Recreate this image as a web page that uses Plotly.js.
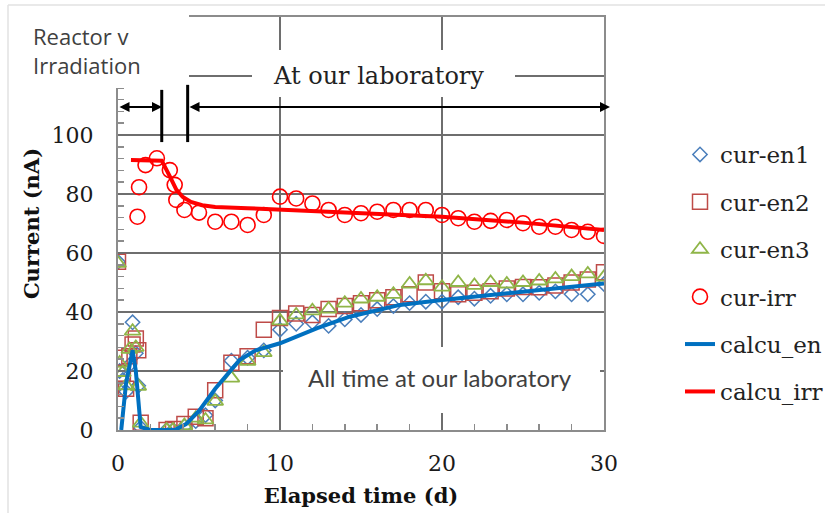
<!DOCTYPE html>
<html>
<head>
<meta charset="utf-8">
<script src="https://cdn.plot.ly/plotly-3.0.1.min.js"></script>
<style>html,body{margin:0;padding:0;background:#fff;}#chart{width:825px;height:513px;}</style>
</head>
<body>
<div id="chart"></div>
<script>
// ---- data ----
var timeEn = [0, 0.1, 0.3, 0.5, 0.7, 0.9, 1.1, 1.25, 1.4, 3.0, 3.4, 4.1, 4.8, 5.4, 6, 7, 8, 9, 10, 11, 12, 13, 14, 15, 16, 17, 18, 19, 20, 21, 22, 23, 24, 25, 26, 27, 28, 29, 30];
var curEn1 = [57, 20, 17, 13, 22, 36.5, 26, 15, 0.8, 0, 0, 1.2, 3, 5, 10, 23.5, 24.5, 27, 34, 36, 36.5, 35.3, 37.5, 39, 41, 42, 43, 43.5, 43.5, 45, 44.5, 45.5, 46, 46, 46.5, 47, 46, 46, 49.5];
var curEn2 = [57, 24.5, 19, 14, 25, 29, 31, 27, 2.5, 0, 0.3, 2, 4.5, 4, 13.5, 22.8, 25, 34, 38, 39.5, 39, 41, 42, 43, 44, 45, 46, 50, 47, 46, 46.5, 47, 48, 48.5, 48.4, 49, 50, 51, 53.5];
var curEn3 = [56.5, 22.7, 19.5, 15, 27.3, 33.5, 28, 14.8, 2.3, 0, 0, 1.5, 4, 3.4, 9.7, 17.6, 23.3, 26.2, 37, 39, 40.4, 41, 43, 44.4, 45, 46, 49.5, 50.6, 48.4, 50, 49, 50, 49.5, 50, 50.5, 51.2, 52, 52.9, 51.8];

var timeIrr = [1.2, 1.3, 1.7, 2.4, 3.2, 3.5, 3.6, 4.1, 5, 6, 7, 8, 9, 10, 11, 12, 13, 14, 15, 16, 17, 18, 19, 20, 21, 22, 23, 24, 25, 26, 27, 28, 29, 30];
var curIrr = [72.3, 82.3, 89.8, 92.1, 88.1, 83.1, 78.0, 74.6, 73.7, 70.6, 70.6, 69.5, 72.9, 79.1, 78.5, 76.8, 74.6, 72.9, 73.5, 74.0, 74.6, 74.6, 74.6, 72.9, 71.8, 70.6, 70.9, 71.2, 70.1, 68.9, 68.9, 67.8, 67.2, 65.8];

var timeCalcEn = [0.2, 0.5, 0.9, 1.1, 1.4, 2.0, 3.5, 4.2, 5.0, 6.0, 7.5, 8.5, 10, 12.3, 14.3, 17.4, 20, 25, 30];
var calcuEn = [0, 16, 27, 20, 1, 0, 0, 2, 6.5, 14, 23.7, 27, 29.4, 34.5, 38.4, 42.4, 44.1, 47.0, 49.7];

var timeCalcIrr = [0.8, 2.7, 3.2, 3.6, 4.0, 4.5, 5.2, 6, 8, 10, 15, 20, 25, 30];
var calcuIrr = [91.5, 91.3, 86, 81.5, 79, 77.3, 76.2, 75.6, 75.2, 74.7, 73.7, 72.3, 70.3, 67.8];

var yTickVals = [0, 20, 40, 60, 80, 100, 120, 140];
var yTickText = ['0', '20', '40', '60', '80', '100', '', ''];
var xTickVals = [0, 10, 20, 30];
var seriesNames = ['cur-en1', 'cur-en2', 'cur-en3', 'cur-irr', 'calcu_en', 'calcu_irr'];

// ---- geometry helpers (pixel -> paper) ----
var L = 118, R = 604, T = 17, B = 430;
function px(x) { return (x - L) / (R - L); }
function py(y) { return (B - y) / (B - T); }

var serif = 'DejaVu Serif';
var sans = 'Lato';

var traces = [
  {x: timeEn, y: curEn1, name: seriesNames[0], legendgroup: 'a', mode: 'markers', type: 'scatter',
   marker: {symbol: 'diamond-open', size: 11, color: '#4a7ebb', line: {width: 1.5}}},
  {x: timeEn, y: curEn2, name: seriesNames[1], legendgroup: 'b', mode: 'markers', type: 'scatter',
   marker: {symbol: 'square-open', size: 15, color: '#be4b48', line: {width: 1.5}}},
  {x: timeEn, y: curEn3, name: seriesNames[2], legendgroup: 'c', mode: 'markers', type: 'scatter',
   marker: {symbol: 'triangle-up-open', size: 14, color: '#8fb548', line: {width: 1.8}}},
  {x: timeIrr, y: curIrr, name: seriesNames[3], legendgroup: 'd', mode: 'markers', type: 'scatter',
   marker: {symbol: 'circle-open', size: 15, color: '#ff0000', line: {width: 1.6}}},
  {x: timeCalcEn, y: calcuEn, name: seriesNames[4], legendgroup: 'e', mode: 'lines', type: 'scatter',
   line: {color: '#0070c0', width: 4}},
  {x: timeCalcIrr, y: calcuIrr, name: seriesNames[5], legendgroup: 'f', mode: 'lines', type: 'scatter',
   line: {color: '#ff0000', width: 4}}
];

var gridColor = '#6e6e6e';
var layout = {
  width: 825, height: 513,
  margin: {l: L, r: 825 - R, t: T, b: 513 - B, autoexpand: false},
  paper_bgcolor: '#ffffff', plot_bgcolor: '#ffffff',
  showlegend: true,
  legend: {x: px(680), y: py(133), xanchor: 'left', yanchor: 'top', traceorder: 'grouped',
           tracegroupgap: 14.5, font: {family: serif, size: 23, color: '#222'}, bgcolor: 'rgba(0,0,0,0)'},
  xaxis: {range: [0, 30], tickvals: xTickVals, showgrid: true, gridcolor: gridColor, gridwidth: 1.5,
          zeroline: false, showline: true, mirror: true, linecolor: '#8c8c8c', linewidth: 2,
          ticks: 'inside', ticklen: 12, tickcolor: gridColor, tickwidth: 1.5,
          ticklabelstandoff: 13,
          minor: {dtick: 2, ticks: 'inside', ticklen: 6, tickcolor: '#8c8c8c', tickwidth: 1.5, showgrid: false},
          tickfont: {family: serif, size: 22, color: '#1a1a1a'},
          title: {text: 'Elapsed time (d)', font: {family: serif, size: 21, color: '#111', weight: 'bold'}, standoff: 13},
          automargin: false, fixedrange: true},
  yaxis: {range: [0, 140], tickvals: yTickVals, ticktext: yTickText, showgrid: true, gridcolor: gridColor, gridwidth: 1.5,
          zeroline: false, showline: true, mirror: true, linecolor: '#8c8c8c', linewidth: 2,
          ticks: 'inside', ticklen: 6, tickcolor: gridColor, tickwidth: 1.5,
          ticklabelstandoff: 18,
          minor: {dtick: 4, ticks: 'inside', ticklen: 6, tickcolor: '#8c8c8c', tickwidth: 1.5, showgrid: false},
          tickfont: {family: serif, size: 22, color: '#1a1a1a'},
          title: {text: 'Current (nA)', font: {family: serif, size: 21, color: '#111', weight: 'bold'}, standoff: 6},
          automargin: false, fixedrange: true},
  shapes: [
    // white boxes behind the text labels (hide grid/axis lines as in the original)
    {type: 'rect', xref: 'paper', yref: 'paper', x0: px(10), x1: px(189), y0: py(88), y1: py(7),
     fillcolor: '#ffffff', line: {width: 0}, layer: 'above'},
    {type: 'rect', xref: 'paper', yref: 'paper', x0: px(252), x1: px(515), y0: py(97), y1: py(50),
     fillcolor: '#ffffff', line: {width: 0}, layer: 'above'},
    {type: 'rect', xref: 'paper', yref: 'paper', x0: px(283), x1: px(600), y0: py(413), y1: py(347),
     fillcolor: '#ffffff', line: {width: 0}, layer: 'above'},
    // period separators
    {type: 'line', xref: 'x', yref: 'y', x0: 2.7, x1: 2.7, y0: 97.6, y1: 115.3,
     line: {color: '#000', width: 3}, layer: 'above'},
    {type: 'line', xref: 'x', yref: 'y', x0: 4.3, x1: 4.3, y0: 97.6, y1: 117.0,
     line: {color: '#000', width: 3}, layer: 'above'},
    // light outer frame of the figure
    {type: 'line', xref: 'paper', yref: 'paper', x0: px(8), x1: px(825), y0: py(5), y1: py(5),
     line: {color: '#e2e2e2', width: 1.5}},
    {type: 'line', xref: 'paper', yref: 'paper', x0: px(8), x1: px(8), y0: py(5), y1: py(513),
     line: {color: '#e2e2e2', width: 1.5}}
  ],
  annotations: [
    {xref: 'paper', yref: 'paper', x: px(31), y: py(51), xanchor: 'left', yanchor: 'middle', align: 'left',
     text: 'Reactor v<br>Irradiation', showarrow: false, font: {family: 'Open Sans', size: 22, color: '#404040'}},
    {xref: 'paper', yref: 'paper', x: px(378), y: py(76), xanchor: 'center', yanchor: 'middle',
     text: 'At our laboratory', showarrow: false, font: {family: serif, size: 24, color: '#222'}},
    {xref: 'paper', yref: 'paper', x: px(440), y: py(377), xanchor: 'center', yanchor: 'middle',
     text: 'All time at our laboratory', showarrow: false, font: {family: sans, size: 24, color: '#404040'}},
    // double arrows
    {xref: 'paper', yref: 'paper', x: px(162), y: py(107), ax: -44, ay: 0, axref: 'pixel', ayref: 'pixel',
     text: '', showarrow: true, arrowside: 'end+start', arrowhead: 2, arrowsize: 1, arrowwidth: 2, arrowcolor: '#000'},
    {xref: 'paper', yref: 'paper', x: px(610), y: py(107), ax: -422, ay: 0, axref: 'pixel', ayref: 'pixel',
     text: '', showarrow: true, arrowside: 'end+start', arrowhead: 2, arrowsize: 1, arrowwidth: 2, arrowcolor: '#000'}
  ]
};

Plotly.newPlot('chart', traces, layout, {displayModeBar: false, staticPlot: true});
</script>
</body>
</html>
